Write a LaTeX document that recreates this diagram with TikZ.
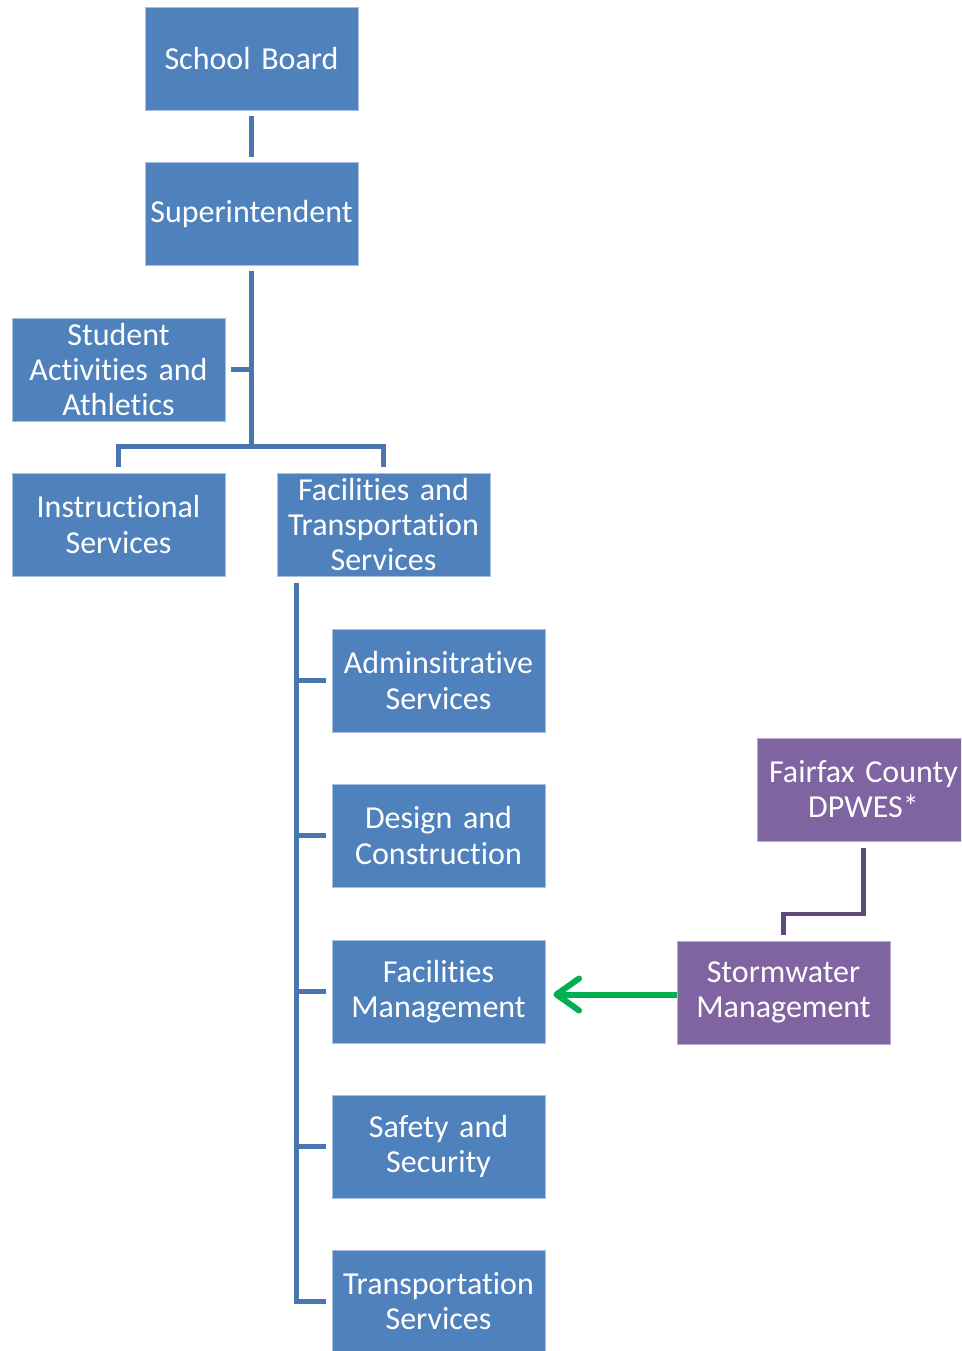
\documentclass[tikz,border=0pt]{standalone}
\usepackage{fontspec}
\setmainfont{Carlito}[Ligatures=NoCommon]
\usetikzlibrary{arrows.meta}
\definecolor{boxblue}{HTML}{4F81BD}
\definecolor{boxedge}{HTML}{A9C0DD}
\definecolor{lineblue}{HTML}{4A76AE}
\definecolor{boxpurple}{HTML}{8064A2}
\definecolor{purpleedge}{HTML}{BBAACF}
\definecolor{linepurple}{HTML}{5F497A}
\definecolor{arrowgreen}{HTML}{00B050}
\tikzset{
  unit/.style={rectangle,fill=boxblue,draw=boxedge,line width=0.6pt,
    minimum width=159.75pt,minimum height=77.25pt,inner sep=0pt,
    text width=155pt,align=center,text=white,
    font=\fontsize{24}{26.3}\selectfont},
  county/.style={unit,fill=boxpurple,draw=purpleedge},
  conn/.style={draw=lineblue,line width=3.75pt},
  pconn/.style={draw=linepurple,line width=3.4pt},
}
\begin{document}
\begin{tikzpicture}[x=0.75pt,y=-0.75pt]
\useasboundingbox (0,0) rectangle (961,1351);
\clip (0,0) rectangle (961,1351);
% top of the chart
\node[unit] (sb) at (251.5,59) {School Board};
\node[unit] (sup) at (251.5,214) {Superintendent};
\node[unit] (saa) at (118.5,369.5) {Student\\Activities and\\Athletics};
\node[unit] (ins) at (118.5,524.5) {Instructional\\Services};
\node[unit] (fts) at (383.5,524.5) {Facilities and\\Transportation\\Services};
% offices under facilities
\node[unit] (adm) at (438.5,680.5) {Adminsitrative\\Services};
\node[unit] (dac) at (438.5,835.5) {Design and\\Construction};
\node[unit] (fcm) at (438.5,991.5) {Facilities\\Management};
\node[unit] (sas) at (438.5,1146.5) {Safety and\\Security};
\node[unit] (trs) at (438.5,1301.5) {Transportation\\Services};
% county side
\node[county] (ffx) at (863.5,789.5) {Fairfax County\\DPWES*};
\node[county] (swm) at (783.5,992.5) {Stormwater\\Management};
\coordinate (hub) at (251.5,446);
\coordinate (bus) at (296,583);
\coordinate (elbow) at (863.5,914);
% connectors
\draw[conn,shorten <=4pt,shorten >=4pt] (sb) -- (sup);
\draw[conn,shorten <=4pt] (sup) -- (hub);
\draw[conn,shorten <=4.5pt] (saa.east) -- (saa.east -| hub);
\draw[conn,shorten <=4.5pt,shorten >=4.5pt] (ins.north) -- (ins.north |- hub) -| (fts.north);
\draw[conn,shorten >=4.5pt] (bus) |- (trs.west);
\foreach \n in {adm,dac,fcm,sas}
  \draw[conn,shorten >=4.5pt] (bus |- \n.west) -- (\n.west);
\draw[pconn,shorten <=5pt,shorten >=4.5pt] (ffx.south) -- (elbow) -| (swm.north);
\draw[arrowgreen,line width=4.5pt,shorten >=6pt,
  -{Straight Barb[round,length=17pt,width=24pt]}] ([yshift=-1.5pt]swm.west) -- ([yshift=-1.5pt]swm.west -| fcm.east);
\end{tikzpicture}
\end{document}
